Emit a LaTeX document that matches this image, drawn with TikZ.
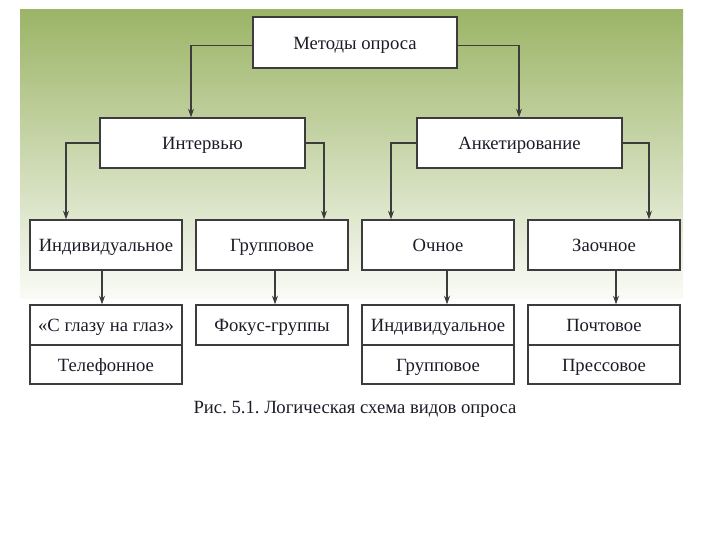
\documentclass[tikz,border=0pt]{standalone}
\usepackage{fontspec}
\setmainfont{Liberation Serif}
\usetikzlibrary{arrows.meta,calc}
\definecolor{gtop}{HTML}{9BB466}
\definecolor{gmid}{HTML}{D9E1C2}
\definecolor{gbot}{HTML}{FAFBF6}
\definecolor{boxc}{HTML}{3C3C3C}
\definecolor{txt}{HTML}{1C1C28}
\tikzset{
  box/.style={draw=boxc, line width=1pt, fill=white, inner sep=0pt, text=txt,
    text height=11pt, text depth=1pt, font=\fontsize{14}{16}\selectfont},
  arr/.style={draw=boxc, line width=0.8pt, -{Stealth[length=6.5pt,width=4.5pt]}},
}
\frenchspacing
\begin{document}
\begin{tikzpicture}[x=0.75pt,y=-0.75pt]
\useasboundingbox (0,0) rectangle (720,540);
\shade[top color=gtop, middle color=gmid, bottom color=gbot] (20,9) rectangle (683,298);
% level 1
\node[box, minimum width=204*0.75pt, minimum height=51*0.75pt] (m) at (355,42.5) {Методы опроса};
% level 2
\node[box, minimum width=205*0.75pt, minimum height=50*0.75pt] (int) at (202.5,143) {Интервью};
\node[box, minimum width=205*0.75pt, minimum height=50*0.75pt] (ank) at (519.5,143) {Анкетирование};
% level 3
\node[box, minimum width=152*0.75pt, minimum height=50*0.75pt] (ind) at (106,245) {Индивидуальное};
\node[box, minimum width=152*0.75pt, minimum height=50*0.75pt] (grp) at (272,245) {Групповое};
\node[box, minimum width=152*0.75pt, minimum height=50*0.75pt] (och) at (438,245) {Очное};
\node[box, minimum width=152*0.75pt, minimum height=50*0.75pt] (zao) at (604,245) {Заочное};
% level 4
\node[box, minimum width=152*0.75pt, minimum height=40*0.75pt] (eye) at (106,325) {«С глазу на глаз»};
\node[box, minimum width=152*0.75pt, minimum height=39*0.75pt] (tel) at (106,364.5) {Телефонное};
\node[box, minimum width=152*0.75pt, minimum height=40*0.75pt] (foc) at (272,325) {Фокус-группы};
\node[box, minimum width=152*0.75pt, minimum height=40*0.75pt] (oi) at (438,325) {Индивидуальное};
\node[box, minimum width=152*0.75pt, minimum height=39*0.75pt] (og) at (438,364.5) {Групповое};
\node[box, minimum width=152*0.75pt, minimum height=40*0.75pt] (po) at (604,325) {Почтовое};
\node[box, minimum width=152*0.75pt, minimum height=39*0.75pt] (pr) at (604,364.5) {Прессовое};
% caption
\node[text=txt, font=\fontsize{14}{16}\selectfont] (cap) at (355,409) {Рис. 5.1. Логическая схема видов опроса};
% x positions of connectors
\coordinate (x191) at (191,0);
\coordinate (x519) at (519,0);
\coordinate (x66) at (66,0);
\coordinate (x324) at (324,0);
\coordinate (x391) at (391,0);
\coordinate (x649) at (649,0);
\coordinate (x102) at (102,0);
\coordinate (x275) at (275,0);
\coordinate (x447) at (447,0);
\coordinate (x616) at (616,0);
% connectors
\draw[arr] ($(m.west)+(0,3)$) -| (int.north -| x191);
\draw[arr] ($(m.east)+(0,3)$) -| (ank.north -| x519);
\draw[arr] (int.west) -| (ind.north -| x66);
\draw[arr] (int.east) -| (grp.north -| x324);
\draw[arr] (ank.west) -| (och.north -| x391);
\draw[arr] (ank.east) -| (zao.north -| x649);
\draw[arr] (ind.south -| x102) -- (eye.north -| x102);
\draw[arr] (grp.south -| x275) -- (foc.north -| x275);
\draw[arr] (och.south -| x447) -- (oi.north -| x447);
\draw[arr] (zao.south -| x616) -- (po.north -| x616);
\end{tikzpicture}
\end{document}
